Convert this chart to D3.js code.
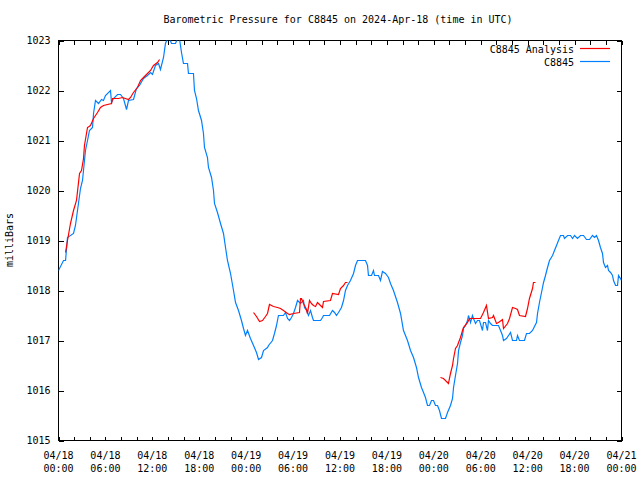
<!DOCTYPE html>
<html>
<head>
<meta charset="utf-8">
<script src="https://cdn.jsdelivr.net/npm/d3@7"></script>
<style>
  html, body { margin: 0; padding: 0; background: #fff; }
  svg { display: block; }
  text { font-family: "DejaVu Sans Mono", "Liberation Mono", monospace; font-size: 10px; fill: #000; }
</style>
</head>
<body>
<svg id="chart" width="640" height="480"></svg>
<script>
// ---- Data (hours since 2024-04-18 00:00 UTC, pressure in mbar) ----
const stationHours = [0.0,0.64,0.9,1.15,1.92,2.17,2.81,3.07,3.45,3.71,3.96,4.35,4.48,4.73,5.12,5.5,5.75,6.01,6.65,6.78,7.03,7.55,7.93,8.31,8.7,8.95,9.59,9.97,10.36,10.87,11.38,11.77,12.02,12.4,12.79,13.04,13.43,13.68,13.94,14.2,14.45,14.96,15.22,15.47,15.73,15.98,16.5,16.62,17.26,17.39,17.65,17.9,18.29,18.54,18.67,19.05,19.18,19.57,19.82,19.95,20.33,20.72,21.1,21.36,21.61,22.0,22.38,22.64,23.02,23.4,23.66,23.91,24.17,24.55,24.94,25.32,25.58,25.96,26.22,26.73,26.86,27.37,27.62,27.88,28.13,28.77,29.03,29.29,29.54,29.8,30.05,30.31,30.57,30.95,31.33,31.46,31.72,31.97,32.23,32.48,32.61,33.51,33.76,33.89,34.66,35.04,35.3,35.55,35.81,36.19,36.45,36.7,36.96,37.34,37.73,37.98,38.24,39.26,39.52,39.64,40.03,40.28,40.41,40.92,41.18,41.43,41.82,42.2,42.46,42.84,43.35,43.74,44.12,44.63,45.02,45.4,45.78,46.04,46.42,46.68,46.93,47.19,47.45,47.7,47.96,48.21,48.47,48.72,48.98,49.49,49.75,50.13,50.39,50.52,50.77,51.03,51.16,51.41,51.67,51.79,52.05,52.31,52.43,52.69,52.94,53.07,53.33,53.58,53.84,54.22,54.35,54.61,54.86,54.99,55.25,55.5,56.27,56.53,56.78,56.91,57.29,57.55,57.81,58.06,58.57,58.7,58.95,59.59,59.85,60.23,60.62,60.87,61.13,61.26,61.51,61.9,62.03,62.28,62.54,62.79,63.18,63.43,63.69,63.94,64.2,64.58,64.71,65.1,65.48,65.74,65.99,66.37,66.76,67.14,67.52,67.91,68.29,68.55,68.8,69.06,69.31,69.57,69.7,69.95,70.21,70.34,70.6,70.85,70.98,71.24,71.49,71.62,71.87,72.0];
const stationPressure = [1018.4,1018.6,1018.6,1019.06,1019.14,1019.3,1020.04,1020.2,1020.8,1021.0,1021.2,1021.26,1021.54,1021.8,1021.74,1021.82,1021.8,1021.9,1022.0,1021.76,1021.84,1021.92,1021.92,1021.84,1021.62,1021.8,1021.82,1022.04,1022.1,1022.24,1022.3,1022.36,1022.32,1022.5,1022.54,1022.42,1022.66,1022.94,1023.04,1023.04,1022.94,1022.94,1023.04,1023.04,1022.76,1022.54,1022.54,1022.34,1022.34,1022.0,1021.84,1021.6,1021.4,1021.14,1020.86,1020.66,1020.46,1020.26,1020.0,1019.74,1019.56,1019.34,1019.14,1018.86,1018.6,1018.34,1018.0,1017.76,1017.6,1017.4,1017.24,1017.1,1017.2,1017.04,1016.9,1016.76,1016.62,1016.66,1016.8,1016.86,1016.9,1017.0,1017.14,1017.3,1017.5,1017.5,1017.56,1017.44,1017.4,1017.46,1017.54,1017.66,1017.8,1017.74,1017.8,1017.66,1017.6,1017.5,1017.6,1017.46,1017.4,1017.4,1017.46,1017.5,1017.5,1017.6,1017.56,1017.5,1017.56,1017.66,1017.8,1018.0,1018.1,1018.2,1018.34,1018.5,1018.6,1018.6,1018.5,1018.3,1018.3,1018.4,1018.3,1018.3,1018.2,1018.38,1018.34,1018.26,1018.14,1018.0,1017.76,1017.54,1017.2,1017.0,1016.8,1016.66,1016.46,1016.26,1016.06,1015.96,1015.86,1015.7,1015.7,1015.8,1015.8,1015.7,1015.7,1015.6,1015.44,1015.44,1015.56,1015.7,1015.84,1016.06,1016.3,1016.54,1016.8,1016.96,1017.1,1017.24,1017.3,1017.4,1017.5,1017.36,1017.5,1017.44,1017.34,1017.4,1017.4,1017.2,1017.36,1017.36,1017.2,1017.4,1017.34,1017.3,1017.3,1017.2,1017.1,1017.0,1017.04,1017.1,1017.16,1017.0,1017.0,1017.1,1017.0,1017.0,1017.14,1017.14,1017.2,1017.28,1017.36,1017.54,1017.76,1018.06,1018.16,1018.3,1018.46,1018.6,1018.7,1018.8,1018.9,1019.0,1019.1,1019.1,1019.04,1019.1,1019.1,1019.04,1019.1,1019.04,1019.1,1019.1,1019.02,1019.02,1019.1,1019.06,1019.1,1019.0,1018.86,1018.74,1018.56,1018.46,1018.5,1018.4,1018.36,1018.3,1018.2,1018.1,1018.1,1018.3,1018.24,1018.2];

// Analysis series; null marks a gap between runs
const analysisHours = [0.9,1.15,1.53,1.92,2.3,2.69,2.94,3.2,3.32,3.71,4.09,4.48,4.99,5.37,5.75,6.78,6.91,7.67,8.18,8.95,9.21,9.59,10.1,10.49,10.87,11.38,11.77,12.15,12.66,12.92,
  null,
  24.94,25.32,25.71,26.09,26.47,26.73,26.98,27.49,28.01,28.39,28.77,29.29,29.54,30.05,30.82,30.95,31.08,31.33,31.46,31.72,31.84,32.1,32.35,32.61,32.87,33.12,33.38,33.76,33.89,34.78,35.04,35.81,36.06,36.45,36.7,36.96,
  null,
  48.85,49.23,49.87,50.13,50.39,50.52,50.77,51.03,51.16,51.41,51.67,51.79,52.31,52.56,53.97,54.35,54.73,54.99,55.5,55.63,56.01,56.27,56.78,56.91,57.42,57.68,58.06,58.45,58.7,58.95,59.72,59.98,60.23,60.62,60.74,61.0];
const analysisPressure = [1018.76,1019.0,1019.34,1019.6,1019.8,1020.34,1020.4,1020.64,1020.9,1021.26,1021.3,1021.44,1021.56,1021.66,1021.7,1021.74,1021.84,1021.84,1021.86,1021.82,1021.86,1021.96,1022.06,1022.2,1022.26,1022.34,1022.4,1022.5,1022.56,1022.62,
  null,
  1017.56,1017.48,1017.38,1017.4,1017.48,1017.54,1017.72,1017.68,1017.66,1017.64,1017.6,1017.54,1017.52,1017.54,1017.56,1017.84,1017.84,1017.74,1017.7,1017.62,1017.54,1017.8,1017.74,1017.7,1017.68,1017.76,1017.72,1017.66,1017.78,1017.8,1017.94,1017.92,1018.04,1018.1,1018.16,1018.16,
  null,
  1016.26,1016.24,1016.14,1016.34,1016.5,1016.64,1016.84,1016.9,1016.96,1017.06,1017.2,1017.26,1017.36,1017.44,1017.44,1017.56,1017.7,1017.44,1017.46,1017.5,1017.34,1017.36,1017.42,1017.24,1017.34,1017.44,1017.66,1017.64,1017.62,1017.5,1017.48,1017.64,1017.84,1018.04,1018.16,1018.16];

const yTicks = [1015,1016,1017,1018,1019,1020,1021,1022,1023];
const xTickHours = [0,6,12,18,24,30,36,42,48,54,60,66,72];
const xTickDates = ["04/18","04/18","04/18","04/18","04/19","04/19","04/19","04/19","04/20","04/20","04/20","04/20","04/21"];
const xTickTimes = ["00:00","06:00","12:00","18:00","00:00","06:00","12:00","18:00","00:00","06:00","12:00","18:00","00:00"];
const seriesNames = ["C8845 Analysis","C8845"];
const seriesColors = ["#ff0000","#0080ff"];
const title = "Barometric Pressure for C8845 on 2024-Apr-18 (time in UTC)";
const yLabel = "milliBars";

// ---- Layout ----
const svg = d3.select("#chart");
const L = 58.5, R = 621.5, T = 40.5, B = 440.5;
const x = d3.scaleLinear().domain([0,72]).range([L,R]);
const y = d3.scaleLinear().domain([1015,1023]).range([B,T]);

svg.append("defs").append("clipPath").attr("id","plotclip")
  .append("rect").attr("x",L).attr("y",T).attr("width",R-L).attr("height",B-T);

// tick positions every 2 hours
const tick2 = d3.range(0,73,2);

const axB = svg.append("g").attr("transform",`translate(0,${B})`)
  .call(d3.axisBottom(x).tickValues(tick2).tickSizeInner(-4).tickSizeOuter(0).tickFormat(""));
const axT = svg.append("g").attr("transform",`translate(0,${T})`)
  .call(d3.axisTop(x).tickValues(tick2).tickSizeInner(-4).tickSizeOuter(0).tickFormat(""));
const axL = svg.append("g").attr("transform",`translate(${L},0)`)
  .call(d3.axisLeft(y).tickValues(yTicks).tickSizeInner(-5).tickSizeOuter(0).tickPadding(8).tickFormat(d3.format("d")));
const axR = svg.append("g").attr("transform",`translate(${R},0)`)
  .call(d3.axisRight(y).tickValues(yTicks).tickSizeInner(-5).tickSizeOuter(0).tickFormat(""));
[axB,axT,axL,axR].forEach(g => {
  g.select(".domain").remove();
  g.selectAll("line").attr("stroke","#000").attr("shape-rendering","crispEdges");
});
axL.selectAll("text").attr("font-family","DejaVu Sans Mono, monospace").attr("font-size","10.5px").attr("fill","#000");

// frame
svg.append("rect").attr("x",L).attr("y",T).attr("width",R-L).attr("height",B-T)
  .attr("fill","none").attr("stroke","#000").attr("shape-rendering","crispEdges");

// x labels (two lines)
const xl = svg.append("g");
xTickHours.forEach((h,i) => {
  const t = xl.append("text").attr("x",x(h)).attr("y",459).attr("text-anchor","middle");
  t.append("tspan").attr("x",x(h)).attr("dy",0).text(xTickDates[i]);
  t.append("tspan").attr("x",x(h)).attr("dy",13).text(xTickTimes[i]);
});

// title
svg.append("text").attr("x",338).attr("y",23).attr("text-anchor","middle").text(title);
// y label
svg.append("text").attr("transform","translate(13,240) rotate(-90)").attr("text-anchor","middle").text(yLabel);

// lines
const station = stationHours.map((h,i) => ({h, v: stationPressure[i]}));
const analysis = analysisHours.map((h,i) => ({h, v: analysisPressure[i]}));
const line = d3.line().defined(d => d.h !== null && d.v !== null).x(d => x(d.h)).y(d => y(d.v));
const plot = svg.append("g").attr("clip-path","url(#plotclip)");
plot.append("path").datum(station).attr("d",line).attr("fill","none")
  .attr("stroke",seriesColors[1]).attr("stroke-width",1.2);
plot.append("path").datum(analysis).attr("d",line).attr("fill","none")
  .attr("stroke",seriesColors[0]).attr("stroke-width",1.2);

// legend
seriesNames.forEach((name,i) => {
  const yy = 48.5 + i*13;
  svg.append("text").attr("x",574).attr("y",yy+4).attr("text-anchor","end").text(name);
  svg.append("line").attr("x1",580).attr("x2",610).attr("y1",yy).attr("y2",yy)
    .attr("stroke",seriesColors[i]).attr("stroke-width",1.2);
});
</script>
</body>
</html>
